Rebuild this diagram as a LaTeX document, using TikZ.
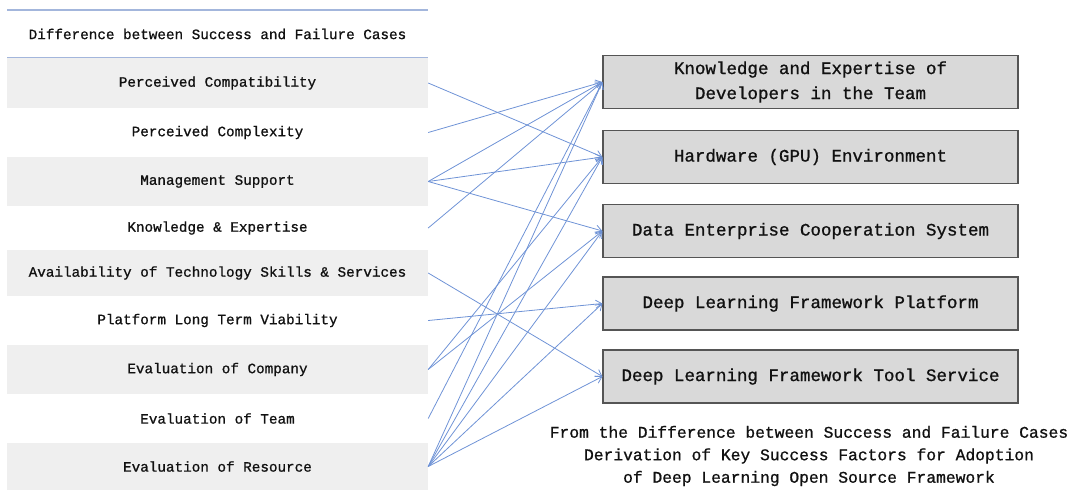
\documentclass[tikz,border=0pt]{standalone}
\usepackage{fontspec}
\newfontfamily\labelmono{Liberation Mono}[FakeBold=0.9]
\usetikzlibrary{arrows.meta}
\definecolor{bandgray}{HTML}{EFEFEF}
\definecolor{rulecol}{HTML}{A3B6DC}
\definecolor{boxfill}{HTML}{D9D9D9}
\definecolor{boxline}{HTML}{555555}
\definecolor{linkcol}{HTML}{6F93D6}
\definecolor{txt}{HTML}{111111}
\tikzset{
  row/.style={minimum width=421pt, inner sep=0pt, text=txt,
    font=\fontsize{14.3}{17}\selectfont\labelmono},
  shaded/.style={row, fill=bandgray},
  factor/.style={draw=boxline, line width=1.2pt, fill=boxfill,
    minimum width=415pt, minimum height=53pt, inner sep=0pt, align=center,
    text=txt, font=\fontsize{17.5}{25}\selectfont\labelmono},
  link/.style={draw=linkcol, line width=0.8pt,
    -{Straight Barb[length=6pt,width=8pt,line width=0.8pt]}},
}
\begin{document}
\begin{tikzpicture}[x=1pt,y=-1pt]
\useasboundingbox (0,0) rectangle (1076,490);

% header of the left table
\node[row, minimum height=46pt] (head) at (217.5,34)
  {Difference between Success and Failure Cases};

% left table rows (alternating shading)
\node[shaded, minimum height=50pt] (r1) at (217.5,83)    {Perceived Compatibility};
\node[row,    minimum height=49pt] (r2) at (217.5,132.5) {Perceived Complexity};
\node[shaded, minimum height=49pt] (r3) at (217.5,181.5) {Management Support};
\node[row,    minimum height=44pt] (r4) at (217.5,228)   {Knowledge \& Expertise};
\node[shaded, minimum height=46pt] (r5) at (217.5,273)   {Availability of Technology Skills \& Services};
\node[row,    minimum height=49pt] (r6) at (217.5,320.5) {Platform Long Term Viability};
\node[shaded, minimum height=49pt] (r7) at (217.5,369.5) {Evaluation of Company};
\node[row,    minimum height=49pt] (r8) at (217.5,418.5) {Evaluation of Team};
\node[shaded, minimum height=47pt] (r9) at (217.5,466.5) {Evaluation of Resource};

% rules above and below the header
\draw[rulecol, line width=1.4pt] (7,10) -- (428,10);
\draw[rulecol, line width=1.4pt] (7,57.5) -- (428,57.5);

% key success factors
\node[factor] (b1) at (810.5,82)    {Knowledge and Expertise of\\Developers in the Team};
\node[factor] (b2) at (810.5,157)   {Hardware (GPU) Environment};
\node[factor] (b3) at (810.5,231)   {Data Enterprise Cooperation System};
\node[factor] (b4) at (810.5,303.5) {Deep Learning Framework Platform};
\node[factor] (b5) at (810.5,376.5) {Deep Learning Framework Tool Service};

% caption
\node[align=center, text=txt, font=\fontsize{16.3}{22.5}\selectfont\labelmono]
  (cap) at (809,456)
  {From the Difference between Success and Failure Cases\\
   Derivation of Key Success Factors for Adoption\\
   of Deep Learning Open Source Framework};

% links from differences to factors
\draw[link] (r1.east) -- (b2.west);
\draw[link] (r2.east) -- (b1.west);
\draw[link] (r3.east) -- (b1.west);
\draw[link] (r3.east) -- (b2.west);
\draw[link] (r3.east) -- (b3.west);
\draw[link] (r4.east) -- (b1.west);
\draw[link] (r5.east) -- (b5.west);
\draw[link] (r6.east) -- (b4.west);
\draw[link] (r7.east) -- (b2.west);
\draw[link] (r7.east) -- (b3.west);
\draw[link] (r8.east) -- (b1.west);
\draw[link] (r9.east) -- (b1.west);
\draw[link] (r9.east) -- (b2.west);
\draw[link] (r9.east) -- (b3.west);
\draw[link] (r9.east) -- (b4.west);
\draw[link] (r9.east) -- (b5.west);
\end{tikzpicture}
\end{document}
